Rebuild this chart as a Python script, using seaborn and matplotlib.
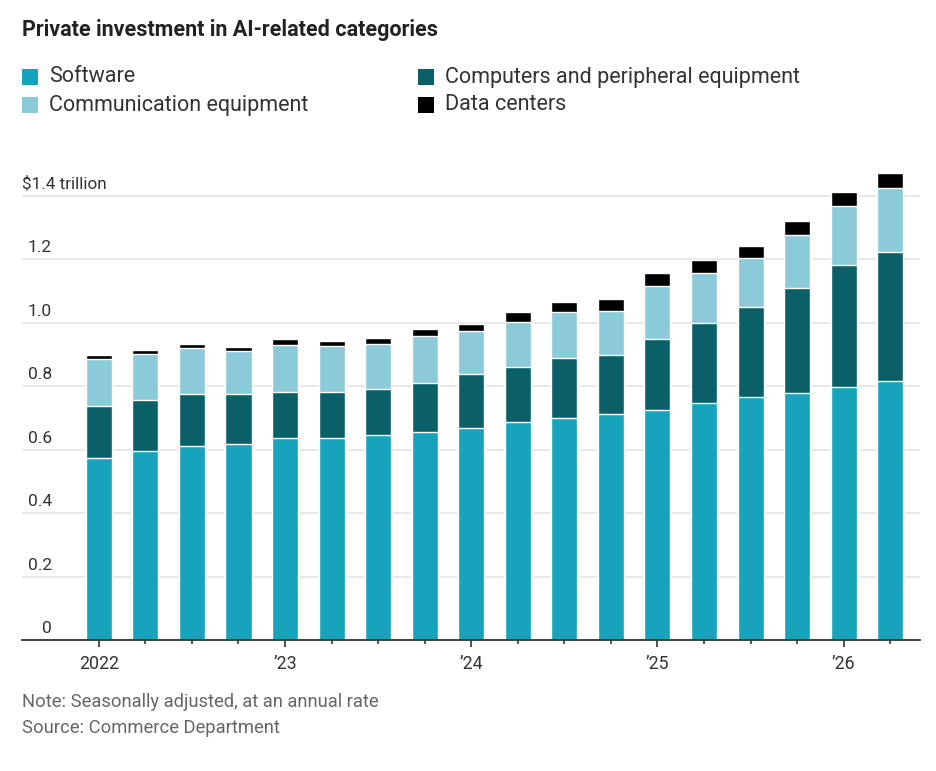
import numpy as np
import pandas as pd
import matplotlib
matplotlib.use("Agg")
import matplotlib.pyplot as plt
from matplotlib import font_manager
from matplotlib.patches import Rectangle
from matplotlib.ticker import FixedLocator
import seaborn as sns

# ── Data (trillions of dollars, seasonally adjusted annual rate) ──────
quarters = [
    "2022Q1", "2022Q2", "2022Q3", "2022Q4",
    "2023Q1", "2023Q2", "2023Q3", "2023Q4",
    "2024Q1", "2024Q2", "2024Q3", "2024Q4",
    "2025Q1", "2025Q2", "2025Q3", "2025Q4",
    "2026Q1", "2026Q2",
]
software = [0.574, 0.596, 0.611, 0.618, 0.637, 0.637, 0.646, 0.654, 0.669,
            0.687, 0.701, 0.711, 0.724, 0.746, 0.765, 0.779, 0.797, 0.817]
computers = [0.163, 0.160, 0.164, 0.157, 0.146, 0.146, 0.146, 0.157, 0.169,
             0.174, 0.187, 0.186, 0.223, 0.252, 0.284, 0.329, 0.384, 0.405]
communication = [0.149, 0.146, 0.145, 0.136, 0.146, 0.142, 0.142, 0.146, 0.136,
                 0.141, 0.146, 0.141, 0.169, 0.159, 0.154, 0.168, 0.186, 0.201]
data_centers = [0.011, 0.012, 0.012, 0.013, 0.018, 0.017, 0.017, 0.023, 0.023,
                0.031, 0.031, 0.036, 0.040, 0.041, 0.040, 0.045, 0.045, 0.049]

series_names = ["Software", "Computers and peripheral equipment",
                "Communication equipment", "Data centers"]
colors = {
    "Software": "#17a3bc",
    "Computers and peripheral equipment": "#0a5f69",
    "Communication equipment": "#8bcad8",
    "Data centers": "#000000",
}

year_ticks = [0, 4, 8, 12, 16]
year_labels = ["2022", "\u201923", "\u201924", "\u201925", "\u201926"]
y_grid = [0, 0.2, 0.4, 0.6, 0.8, 1.0, 1.2, 1.4]
y_labels = ["0", "0.2", "0.4", "0.6", "0.8", "1.0", "1.2", "$1.4 trillion"]

# ── Fonts ─────────────────────────────────────────────────────────────
available = {f.name for f in font_manager.fontManager.ttflist}
narrow = "Liberation Sans Narrow" if "Liberation Sans Narrow" in available else "Roboto"

sns.set_style("white")
plt.rcParams["font.family"] = [narrow, "DejaVu Sans"]

df = pd.DataFrame({
    "quarter": quarters,
    "Software": software,
    "Computers and peripheral equipment": computers,
    "Communication equipment": communication,
    "Data centers": data_centers,
})
df["x"] = np.arange(len(df))
# cumulative tops, drawn tallest first so each segment overlays the next
cum = df[series_names].cumsum(axis=1)

fig = plt.figure(figsize=(9.36, 7.71), dpi=100)
W, H = 936, 771
ax = fig.add_axes([22 / W, 1 - 640 / H, (920 - 22) / W, (640 - 164) / H])

for name in reversed(series_names):
    sns.barplot(
        x=df["x"], y=cum[name], color=colors[name], width=0.56,
        edgecolor="white", linewidth=1.0, saturation=1, ax=ax,
        native_scale=True,
    )

ax.set_xlim(-1.65, 17.64)
ax.set_ylim(0, 1.5)

# gridlines and inline y labels
trans = matplotlib.transforms.blended_transform_factory(ax.transAxes, ax.transData)
for v, lab in zip(y_grid, y_labels):
    if v > 0:
        ax.axhline(v, color="#e2e2e2", lw=1.1, zorder=0)
    if lab.startswith("$"):
        ax.text(0.0, v + 0.012, lab, transform=trans, ha="left", va="bottom",
                fontsize=12.3, color="#333333")
    else:
        ax.text(30 / (920 - 22), v + 0.012, lab, transform=trans, ha="right",
                va="bottom", fontsize=12.5, color="#333333")

for s in ["top", "right", "left"]:
    ax.spines[s].set_visible(False)
ax.spines["bottom"].set_color("#333333")
ax.spines["bottom"].set_linewidth(1.3)

ax.set_yticks([])
ax.xaxis.set_major_locator(FixedLocator(year_ticks))
ax.set_xticklabels(year_labels)
ax.xaxis.set_minor_locator(FixedLocator(list(range(len(quarters)))))
ax.tick_params(axis="x", which="major", length=5, width=1.2, color="#333333",
               labelsize=12.8, labelcolor="#333333", pad=6, bottom=True)
ax.tick_params(axis="x", which="minor", length=3, width=1.2, color="#333333",
               bottom=True)
ax.set_xlabel("")
ax.set_ylabel("")

# ── Title, legend, notes ──────────────────────────────────────────────
fig.text(22 / W, 1 - 30 / H, "Private investment in AI-related categories",
         fontsize=15.5, fontweight="bold", color="#222222", ha="left", va="center")

legend_pos = [
    ("Software", 22, 77),
    ("Communication equipment", 22, 105),
    ("Computers and peripheral equipment", 418, 77),
    ("Data centers", 418, 105),
]
for name, lx, ly in legend_pos:
    fig.patches.append(Rectangle((lx / W, 1 - (ly + 8) / H), 16 / W, 16 / H,
                                 transform=fig.transFigure, facecolor=colors[name],
                                 edgecolor="none"))
    fig.text((lx + 27) / W, 1 - ly / H, name, fontsize=15.5, color="#333333",
             ha="left", va="center")

fig.text(22 / W, 1 - 702 / H, "Note: Seasonally adjusted, at an annual rate",
         fontsize=13.2, color="#666666", ha="left", va="center")
fig.text(22 / W, 1 - 728 / H, "Source: Commerce Department",
         fontsize=13.2, color="#666666", ha="left", va="center")

fig.savefig("out.png", dpi=100)
plt.close(fig)
